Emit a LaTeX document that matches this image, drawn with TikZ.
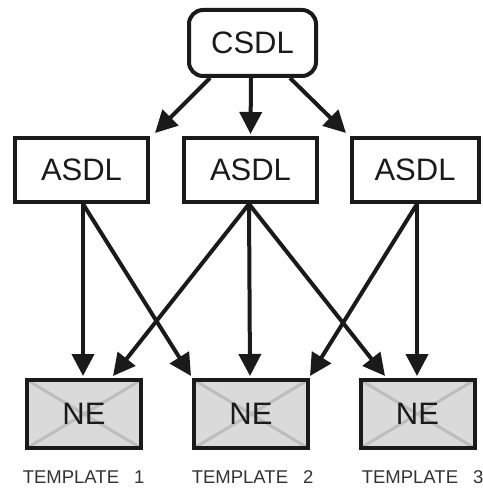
\documentclass[tikz,border=0pt]{standalone}
\usepackage{fontspec}
\setmainfont{Liberation Sans}
\usetikzlibrary{arrows.meta,calc}
\definecolor{ink}{HTML}{1A1A1A}
\definecolor{nefill}{HTML}{DADADA}
\definecolor{nex}{HTML}{BDBDBD}
\definecolor{lbl}{HTML}{333333}
\begin{document}
\begin{tikzpicture}[x=1pt,y=-1pt,
  box/.style={draw=ink,line width=4pt,fill=white,font=\fontsize{31}{31}\selectfont,text=ink,inner sep=0pt},
  csdlbox/.style={box,rounded corners=14pt,minimum width=127pt,minimum height=66pt},
  asdlbox/.style={box,minimum width=133pt,minimum height=64pt},
  nebox/.style={box,fill=nefill,minimum width=114pt,minimum height=68pt,
    path picture={\draw[nex,line width=3pt]
      (path picture bounding box.north west) -- (path picture bounding box.south east)
      (path picture bounding box.north east) -- (path picture bounding box.south west);}},
  tlabel/.style={anchor=base west,inner sep=0pt,text=lbl,font=\fontsize{18.5}{18.5}\selectfont},
  arr/.style={draw=ink,line width=4pt,-{Triangle[length=22pt,width=22pt]}}
]
\useasboundingbox (0,0) rectangle (482,489);
\node[csdlbox] (csdl) at (252.5,43) {CSDL};
\node[asdlbox] (asdl1) at (81.5,170) {ASDL};
\node[asdlbox] (asdl2) at (250.5,170) {ASDL};
\node[asdlbox,minimum width=127pt] (asdl3) at (415,170) {ASDL};
\node[nebox] (ne1) at (84,414) {NE};
\node[nebox] (ne2) at (251,414) {NE};
\node[nebox] (ne3) at (417.5,414) {NE};
\node[tlabel] (t1) at (22.6,483) {TEMPLATE\hspace{15pt}1};
\node[tlabel] (t2) at (191.6,483) {TEMPLATE\hspace{15pt}2};
\node[tlabel] (t3) at (361.6,483) {TEMPLATE\hspace{15pt}3};
% CSDL -> ASDL
\draw[arr] ($(csdl.south)+(-42.5,0)$) -- ($(asdl1.north east)+(5,-3)$);
\draw[arr] ($(csdl.south)+(-1.5,0)$) -- ($(asdl2.north)+(0,-2)$);
\draw[arr] ($(csdl.south)+(37.5,0)$) -- ($(asdl3.north west)+(-3.5,-3)$);
% ASDL -> NE
\draw[arr] ($(asdl1.south)+(1.5,0)$) -- ($(ne1.north)+(-1,-2)$);
\draw[arr] ($(asdl1.south)+(1.5,0)$) -- ($(ne2.north west)+(-1,-2)$);
\draw[arr] ($(asdl2.south)+(-1.5,0)$) -- ($(ne1.north)+(29,-2)$);
\draw[arr] ($(asdl2.south)+(-1.5,0)$) -- ($(ne2.north)+(-1,-2)$);
\draw[arr] ($(asdl2.south)+(-1.5,0)$) -- ($(ne3.north)+(-32.5,-2)$);
\draw[arr] ($(asdl3.south)+(2,0)$) -- ($(ne2.north east)+(0,-2)$);
\draw[arr] ($(asdl3.south)+(2,0)$) -- ($(ne3.north)+(-0.5,-2)$);
\end{tikzpicture}
\end{document}
